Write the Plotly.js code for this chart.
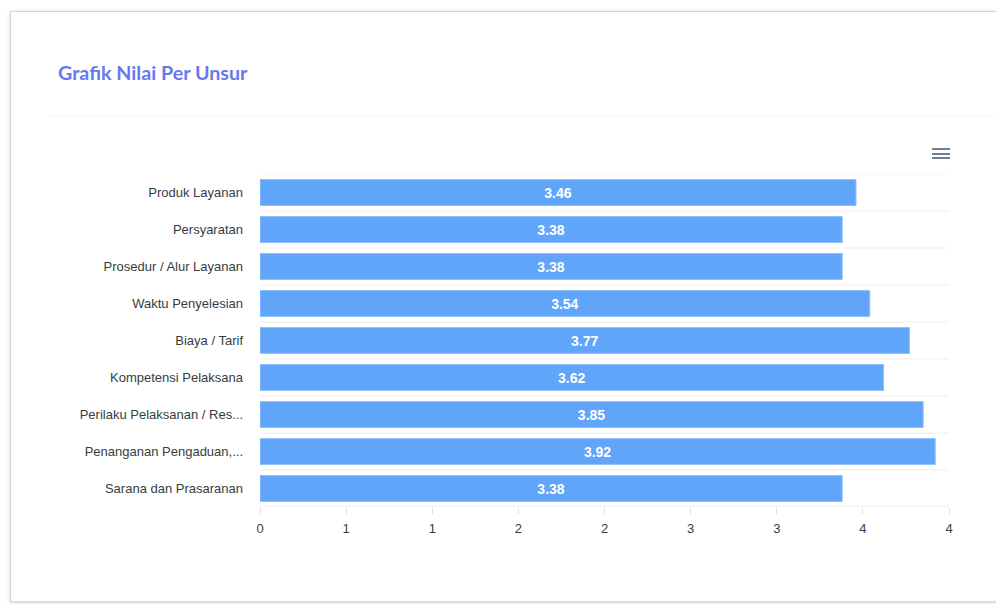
<!DOCTYPE html>
<html>
<head>
<meta charset="utf-8">
<script src="https://cdn.plot.ly/plotly-3.0.1.min.js"></script>
<style>
  html, body { margin:0; padding:0; background:#ffffff; width:996px; height:604px; overflow:hidden; }
  #card { position:absolute; left:10px; top:11px; width:1000px; height:589px; background:#fff;
          border:1px solid #d6d6d6; box-shadow:0 1px 4px rgba(0,0,0,0.18); }
  #sep { position:absolute; left:50px; top:115px; width:960px; height:1px; background:#f5f5f5; }
  #menu { position:absolute; left:932px; top:148px; width:18px; height:12px; }
  #menu div { height:2px; background:#6e8192; margin-bottom:2.5px; }
  #chart { position:absolute; left:0; top:0; width:996px; height:604px; }
</style>
</head>
<body>
<div id="card"></div>
<div id="sep"></div>
<div id="chart"></div>
<div id="menu"><div></div><div></div><div></div></div>
<script>
const categories = [
  "Produk Layanan",
  "Persyaratan",
  "Prosedur / Alur Layanan",
  "Waktu Penyelesian",
  "Biaya / Tarif",
  "Kompetensi Pelaksana",
  "Perilaku Pelaksanan / Res...",
  "Penanganan Pengaduan,...",
  "Sarana dan Prasaranan"
];
const values = [3.46, 3.38, 3.38, 3.54, 3.77, 3.62, 3.85, 3.92, 3.38];
const xTickVals = [0, 0.5, 1, 1.5, 2, 2.5, 3, 3.5, 4];
const xTickText = ["0", "1", "1", "2", "2", "3", "3", "4", "4"];

const gridShapes = [];
for (let i = 0; i <= categories.length; i++) {
  gridShapes.push({
    type: "line", xref: "paper", yref: "y",
    x0: 0, x1: 1, y0: i - 0.5, y1: i - 0.5,
    line: { color: i === categories.length ? "#e0e0e0" : "#efefef", width: 1 },
    layer: "below"
  });
}

const trace = {
  type: "bar",
  orientation: "h",
  y: categories,
  x: values,
  width: 0.7,
  marker: { color: "#60a5fa", line: { color: "#8fc0fb", width: 1 } },
  text: values.map(v => v.toFixed(2)),
  textposition: "inside",
  insidetextanchor: "middle",
  textangle: 0,
  textfont: { family: "Liberation Sans, Arial, sans-serif", size: 14, color: "#ffffff", weight: 700 },
  hoverinfo: "none",
  cliponaxis: false
};

const layout = {
  width: 996, height: 604,
  margin: { l: 260, r: 47, t: 174, b: 97 },
  paper_bgcolor: "rgba(0,0,0,0)",
  plot_bgcolor: "rgba(0,0,0,0)",
  showlegend: false,
  title: {
    text: "<b>Grafik Nilai Per Unsur</b>",
    x: 58 / 996, xanchor: "left", y: 1 - 73 / 604, yanchor: "middle",
    font: { family: "Lato, Noto Sans, sans-serif", size: 19.7, color: "#6777ef" }
  },
  xaxis: {
    range: [0, 4],
    tickvals: xTickVals,
    ticktext: xTickText,
    showgrid: false,
    zeroline: false,
    showline: false,
    ticks: "outside", ticklen: 6, tickcolor: "#e0e0e0",
    ticklabelstandoff: 3,
    tickfont: { family: "Liberation Sans, Arial, sans-serif", size: 13, color: "#373d3f" },
    fixedrange: true
  },
  yaxis: {
    type: "category",
    range: [categories.length - 0.5, -0.5],
    showgrid: false, zeroline: false, showline: false,
    ticks: "", ticklabelstandoff: 16,
    tickfont: { family: "Liberation Sans, Arial, sans-serif", size: 13, color: "#373d3f" },
    fixedrange: true
  },
  shapes: gridShapes,
  bargap: 0.3
};

Plotly.newPlot("chart", [trace], layout, { displayModeBar: false, staticPlot: true });
</script>
</body>
</html>
